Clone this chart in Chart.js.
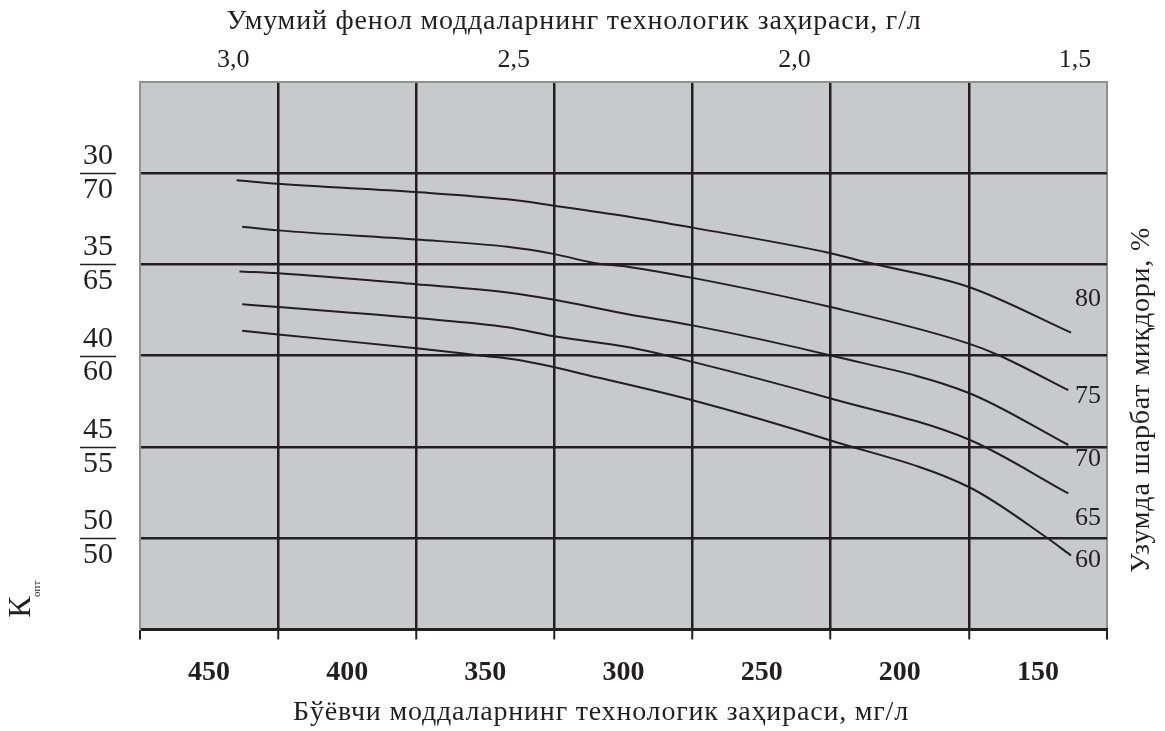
<!DOCTYPE html>
<html><head><meta charset="utf-8">
<script src="https://cdn.jsdelivr.net/npm/chart.js@4.4.1/dist/chart.umd.min.js"></script>
<style>html,body{margin:0;padding:0;background:#fff}#wrap{width:1165px;height:731px;position:relative}</style>
</head><body><div id="wrap"><canvas id="c"></canvas></div>
<script>
// ---- data ----
const bottomTickLabels = [450, 400, 350, 300, 250, 200, 150];   // мг/л
const bottomCellEdges  = [475, 425, 375, 325, 275, 225, 175, 125];
const topTickValues    = [3.0, 2.5, 2.0, 1.5];                   // г/л
const topAxisRange     = [1.443, 3.166];
const yTickValues      = [30, 35, 40, 45, 50];
const yTickDenoms      = [70, 65, 60, 55, 50];
const seriesNames      = ['80', '75', '70', '65', '60'];

const s80x = [440, 425, 375, 342, 325, 298, 275, 225, 212, 175, 138];
const s80y = [30.4, 30.6, 31.05, 31.45, 31.8, 32.4, 33.0, 34.4, 34.9, 36.25, 38.75];
const s75x = [438, 425, 375, 342, 325, 310, 298, 275, 225, 175, 164, 139];
const s75y = [32.95, 33.15, 33.65, 34.05, 34.45, 34.95, 35.15, 35.75, 37.35, 39.35, 40.0, 41.9];
const s70x = [439, 425, 375, 342, 325, 298, 275, 225, 175, 139];
const s70y = [35.4, 35.5, 36.1, 36.55, 36.95, 37.75, 38.35, 40.0, 42.05, 44.9];
const s65x = [438, 425, 375, 342, 325, 298, 275, 225, 175, 139];
const s65y = [37.2, 37.35, 37.95, 38.45, 38.95, 39.55, 40.35, 42.35, 44.6, 47.55];
const s60x = [438, 425, 375, 352, 338, 308, 275, 225, 175, 147, 138];
const s60y = [38.65, 38.85, 39.6, 40.0, 40.25, 41.25, 42.45, 44.65, 47.2, 49.95, 50.95];
const seriesLabelY = [36.9, 42.2, 45.7, 48.9, 51.2];

// ---- build ----
const INK = '#231f20', FRAME = '#8f9194', FILL = '#c8c9cb', FONT = "'Liberation Serif', 'Times New Roman', serif";
const xs = [s80x, s75x, s70x, s65x, s60x], ys = [s80y, s75y, s70y, s65y, s60y];
const datasets = seriesNames.map((n, i) => ({
  label: n,
  data: xs[i].map((x, j) => ({x, y: ys[i][j]})),
  borderColor: INK, borderWidth: 2, pointRadius: 0, cubicInterpolationMode: 'monotone', fill: false,
  xAxisID: 'x', yAxisID: 'y'
}));
const allBottom = [...bottomCellEdges, ...bottomTickLabels].sort((a, b) => b - a);
const isEdge = v => v === bottomCellEdges[0] || v === bottomCellEdges[bottomCellEdges.length - 1];
const Y_FONT = 30, Y_PAD = 27;

const framePlugin = {
  id: 'frame',
  beforeDraw(chart) {
    const {ctx, chartArea: a} = chart;
    ctx.save(); ctx.fillStyle = FILL; ctx.fillRect(a.left, a.top, a.width, a.height); ctx.restore();
  },
  afterDraw(chart) {
    const {ctx, chartArea: a, scales} = chart;
    ctx.save();
    ctx.fillStyle = INK; ctx.strokeStyle = INK;
    // fraction bars on y axis
    ctx.font = `${Y_FONT}px ${FONT}`;
    const w = Math.max(...yTickValues.map(v => ctx.measureText(String(v)).width));
    const cx = a.left - Y_PAD - w / 2;
    ctx.lineWidth = 1.5;
    yTickValues.forEach(v => {
      const py = Math.round(scales.y.getPixelForValue(v)) + 0.5;
      ctx.beginPath(); ctx.moveTo(cx - 18, py); ctx.lineTo(cx + 18, py); ctx.stroke();
    });
    // curve labels
    ctx.font = `26px ${FONT}`; ctx.textAlign = 'center'; ctx.textBaseline = 'middle';
    seriesNames.forEach((n, i) => ctx.fillText(n, a.right - 19, scales.y.getPixelForValue(seriesLabelY[i])));
    // titles
    ctx.font = `28px ${FONT}`;
    if ('letterSpacing' in ctx) ctx.letterSpacing = '0.8px';
    ctx.fillText('Умумий фенол моддаларнинг технологик заҳираси, г/л', 574, 22);
    ctx.fillText('Бўёвчи моддаларнинг технологик заҳираси, мг/л', 601, 713);
    ctx.save(); ctx.translate(1142, 400); ctx.rotate(-Math.PI / 2);
    ctx.fillText('Узумда шарбат миқдори, %', 0, 0); ctx.restore();
    if ('letterSpacing' in ctx) ctx.letterSpacing = '0px';
    ctx.save(); ctx.translate(22, 607); ctx.rotate(-Math.PI / 2);
    ctx.font = `32px ${FONT}`; ctx.textAlign = 'center'; ctx.fillText('К', 0, 0);
    ctx.font = `11px ${FONT}`; ctx.textAlign = 'left'; ctx.fillText('опт', 10, 15);
    ctx.restore();
    ctx.restore();
  }
};

new Chart(document.getElementById('c'), {
  type: 'line',
  data: {datasets},
  options: {
    responsive: true, maintainAspectRatio: false, animation: false,
    layout: {padding: {left: 0, right: 58, top: 0, bottom: 0}},
    plugins: {legend: {display: false}, tooltip: {enabled: false}},
    scales: {
      x: {
        type: 'linear', position: 'bottom', min: 125, max: 475, reverse: true,
        afterBuildTicks: ax => { ax.ticks = allBottom.map(v => ({value: v})); },
        afterFit: ax => { ax.height = 101.5; },
        ticks: {autoSkip: false, maxRotation: 0, minRotation: 0, padding: 16, color: INK,
          font: {family: FONT, size: 28, weight: 'bold'},
          callback: v => bottomTickLabels.includes(v) ? String(v) : ''},
        grid: {
          color: c => isEdge(c.tick.value) ? FRAME : (bottomTickLabels.includes(c.tick.value) ? 'rgba(0,0,0,0)' : INK),
          lineWidth: c => isEdge(c.tick.value) ? 2 : 2.5,
          tickColor: c => bottomTickLabels.includes(c.tick.value) ? 'rgba(0,0,0,0)' : INK,
          tickLength: 10, tickWidth: 2
        },
        border: {display: true, color: INK, width: 3}
      },
      xTop: {
        type: 'linear', position: 'top', min: topAxisRange[0], max: topAxisRange[1], reverse: true,
        afterBuildTicks: ax => { ax.ticks = topTickValues.map(v => ({value: v})); },
        afterFit: ax => { ax.height = 81.5; },
        ticks: {autoSkip: false, maxRotation: 0, minRotation: 0, padding: 6, color: INK,
          font: {family: FONT, size: 26},
          callback: v => v.toFixed(1).replace('.', ',')},
        grid: {drawOnChartArea: false, drawTicks: false},
        border: {display: true, color: FRAME, width: 2}
      },
      y: {
        type: 'linear', position: 'left', min: 25, max: 55, reverse: true,
        afterBuildTicks: ax => { ax.ticks = yTickValues.map(v => ({value: v})); },
        afterFit: ax => { ax.width = 140; },
        ticks: {autoSkip: false, padding: Y_PAD, crossAlign: 'center', color: INK,
          font: {family: FONT, size: Y_FONT, lineHeight: 1.12},
          callback: v => [String(v), String(yTickDenoms[yTickValues.indexOf(v)])]},
        grid: {color: INK, lineWidth: 2.5, drawTicks: false},
        border: {display: true, color: FRAME, width: 2}
      }
    }
  },
  plugins: [framePlugin]
});
</script></body></html>
